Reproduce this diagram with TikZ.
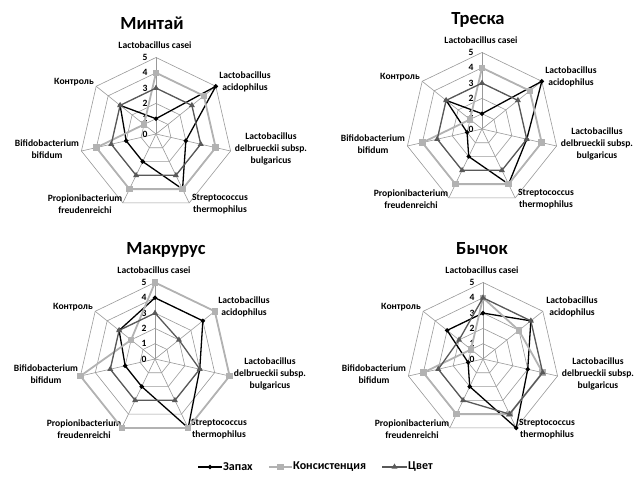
\documentclass[tikz,border=0pt]{standalone}
\usepackage{fontspec}
\setmainfont{Carlito}
\usetikzlibrary{shapes.geometric}

\begin{document}
\begin{tikzpicture}[x=1pt, y=1pt,
                    font=\bfseries\fontsize{9.6}{12.3}\selectfont,
                    grid/.style = {draw=gray!80, line width=0.6pt},
                    axislabel/.style = {align=center, inner sep=0pt},
                    ticklabel/.style = {inner sep=0pt},
                    charttitle/.style = {anchor=base, inner sep=0pt,
                                         font=\bfseries\fontsize{18.5}{18.5}\selectfont},
                    legendtext/.style = {anchor=west, inner sep=1pt,
                                         font=\bfseries\fontsize{12}{12}\selectfont},
                    zapakh/.style = {draw=black, line width=1.3pt, line join=round},
                    konsist/.style = {draw=gray!60, line width=1.8pt, line join=round},
                    tsvet/.style = {draw=black!65, line width=1.3pt, line join=round},
                    zapakh mark/.style = {diamond, fill=black, inner sep=0pt, minimum size=5pt},
                    konsist mark/.style = {rectangle, fill=gray!60, inner sep=0pt, minimum size=6.5pt},
                    tsvet mark/.style = {regular polygon, regular polygon sides=3, fill=black!65,
                                         inner sep=0pt, minimum size=7pt}]

  \useasboundingbox (0,0) rectangle (643,486);

  % centre x/y, name, title, title shift, Запах / Консистенция / Цвет
  \foreach \cx/\cy/\cn/\ttl/\tdx/\za/\ko/\cv in {
      156/352/m/Минтай/-4/{1,5,2,4,2,2,3}/{4,4,4,4,4,4,1}/{3,3,3,3,3,3,3},
      482/357/t/Треска/-4/{1,5,3,4,2,1,3}/{4,4,4,4,4,4,1}/{3,3,3,3,3,3,3},
      155/127/k/Макрурус/11/{4,4,3,5,2,2,3}/{5,5,5,5,5,5,2}/{3,2,3,3,3,3,3},
      483/127/b/Бычок/-1/{3,4,3,5,2,1,3}/{4,3,4,4,4,4,1}/{4,4,4,4,3,3,2}}{
  \begin{scope}[shift={(\cx,\cy)}]
    % grid
    \foreach \lev in {1,...,5}
      \draw[grid] (90:\lev*15.3) \foreach \i in {1,...,6}{ -- (90-\i*360/7:\lev*15.3)} -- cycle;
    \foreach \i in {0,...,6}
      \draw[grid] (0,0) -- (90-\i*360/7:76.5);
    \foreach \lev in {0,...,5}
      \node[ticklabel] (\cn tick\lev) at (-11,\lev*15.3) {\lev};

    \node[charttitle] (\cn title) at (\tdx,104) {\ttl};
    \node[axislabel] (\cn ax1) at (-1,89) {Lactobacillus casei};
    \node[axislabel] (\cn ax2) at (89,52) {Lactobacillus\\acidophilus};
    \node[axislabel] (\cn ax3) at (115,-15) {Lactobacillus\\delbrueckii subsp.\\bulgaricus};
    \node[axislabel] (\cn ax4) at (64,-70) {Streptococcus\\thermophilus};
    \node[axislabel] (\cn ax5) at (-71,-70) {Propionibacterium\\freudenreichi};
    \node[axislabel] (\cn ax6) at (-109,-15) {Bifidobacterium\\bifidum};
    \node[axislabel] (\cn ax7) at (-82,52) {Контроль};

    % Запах
    \foreach \val [count=\i] in \za
      \coordinate (\cn z\i) at (90-\i*360/7+360/7:\val*15.3);
    \draw[zapakh] (\cn z1) -- (\cn z2) -- (\cn z3) -- (\cn z4) -- (\cn z5) -- (\cn z6) -- (\cn z7) -- cycle;
    \foreach \i in {1,...,7}
      \node[zapakh mark] (\cn zm\i) at (\cn z\i) {};

    % Консистенция
    \foreach \val [count=\i] in \ko
      \coordinate (\cn k\i) at (90-\i*360/7+360/7:\val*15.3);
    \draw[konsist] (\cn k1) -- (\cn k2) -- (\cn k3) -- (\cn k4) -- (\cn k5) -- (\cn k6) -- (\cn k7) -- cycle;
    \foreach \i in {1,...,7}
      \node[konsist mark] (\cn km\i) at (\cn k\i) {};

    % Цвет
    \foreach \val [count=\i] in \cv
      \coordinate (\cn c\i) at (90-\i*360/7+360/7:\val*15.3);
    \draw[tsvet] (\cn c1) -- (\cn c2) -- (\cn c3) -- (\cn c4) -- (\cn c5) -- (\cn c6) -- (\cn c7) -- cycle;
    \foreach \i in {1,...,7}
      \node[tsvet mark] (\cn cm\i) at (\cn c\i) {};
  \end{scope}
  }

  % legend
  \coordinate (lz1) at (198,19);
  \coordinate (lz2) at (222,19);
  \draw[zapakh] (lz1) -- (lz2);
  \node[zapakh mark] (lzm) at (210,19) {};
  \node[legendtext] (lzt) at (lz2) {Запах};

  \coordinate (lk1) at (269,19);
  \coordinate (lk2) at (292,19);
  \draw[konsist] (lk1) -- (lk2);
  \node[konsist mark] (lkm) at (280.5,19) {};
  \node[legendtext] (lkt) at (lk2) {Консистенция};

  \coordinate (lc1) at (382,19);
  \coordinate (lc2) at (407,19);
  \draw[tsvet] (lc1) -- (lc2);
  \node[tsvet mark] (lcm) at (394.5,19) {};
  \node[legendtext] (lct) at (lc2) {Цвет};
\end{tikzpicture}
\end{document}
